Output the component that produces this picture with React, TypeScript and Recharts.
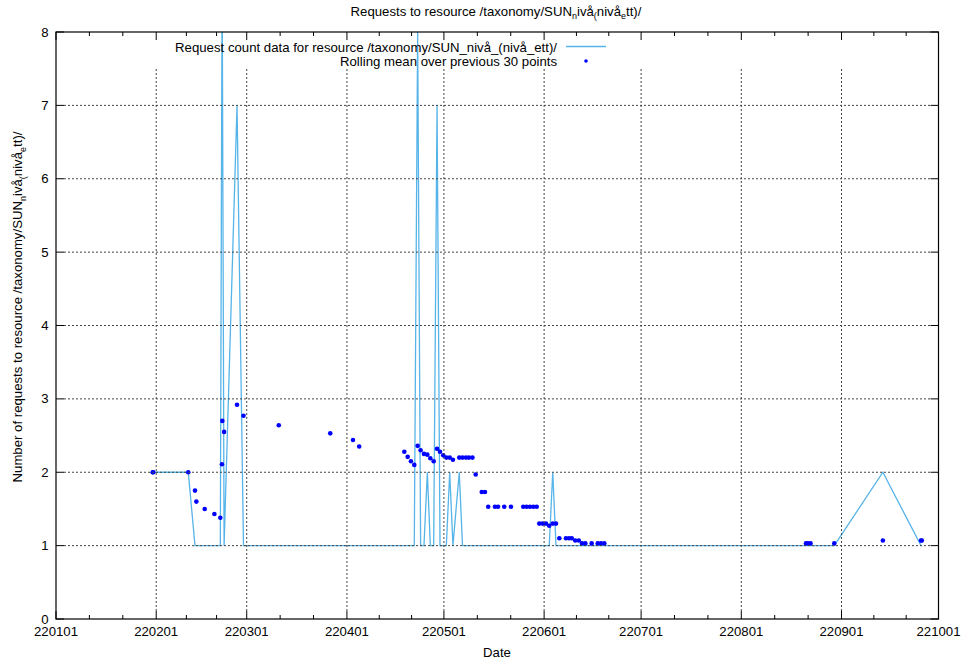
import React from 'react';
import { ComposedChart, Line, XAxis, YAxis } from 'recharts';

// ---- data ----
const DATES = [
  '2022-01-30T22:00Z', '2022-01-31T02:00Z', '2022-02-10T22:00Z', '2022-02-13T00:00Z', '2022-02-13T10:00Z',
  '2022-02-16T00:00Z', '2022-02-19T00:00Z', '2022-02-20T20:00Z', '2022-02-21T08:00Z', '2022-02-21T11:00Z',
  '2022-02-22T00:00Z', '2022-02-26T00:00Z', '2022-02-28T00:00Z', '2022-03-10T22:00Z', '2022-03-26T20:00Z',
  '2022-04-02T21:00Z', '2022-04-04T19:00Z', '2022-04-18T18:00Z', '2022-04-19T19:00Z', '2022-04-20T19:00Z',
  '2022-04-21T20:00Z', '2022-04-22T21:00Z', '2022-04-23T19:00Z', '2022-04-24T20:00Z', '2022-04-25T21:00Z',
  '2022-04-26T19:00Z', '2022-04-27T20:00Z', '2022-04-28T21:00Z', '2022-04-29T19:00Z', '2022-04-30T19:00Z',
  '2022-05-01T18:00Z', '2022-05-02T19:00Z', '2022-05-03T19:00Z', '2022-05-05T18:00Z', '2022-05-06T18:00Z',
  '2022-05-07T20:00Z', '2022-05-08T18:00Z', '2022-05-09T20:00Z', '2022-05-10T20:00Z', '2022-05-12T17:00Z',
  '2022-05-13T17:00Z', '2022-05-14T17:00Z', '2022-05-16T19:00Z', '2022-05-17T18:00Z', '2022-05-19T16:00Z',
  '2022-05-21T18:00Z', '2022-05-25T13:00Z', '2022-05-26T14:00Z', '2022-05-27T15:00Z', '2022-05-28T16:00Z',
  '2022-05-29T17:00Z', '2022-05-30T12:00Z', '2022-05-31T13:00Z', '2022-06-01T14:00Z', '2022-06-02T14:00Z',
  '2022-06-03T16:00Z', '2022-06-04T16:00Z', '2022-06-05T17:00Z', '2022-06-07T18:00Z', '2022-06-08T17:00Z',
  '2022-06-09T13:00Z', '2022-06-10T15:00Z', '2022-06-11T17:00Z', '2022-06-12T17:00Z', '2022-06-13T18:00Z',
  '2022-06-15T17:00Z', '2022-06-17T14:00Z', '2022-06-18T14:00Z', '2022-06-19T15:00Z', '2022-08-21T00:00Z',
  '2022-08-21T15:00Z', '2022-08-22T10:00Z', '2022-08-29T18:00Z', '2022-09-13T19:00Z', '2022-09-25T14:00Z',
  '2022-09-25T20:00Z',
];

const COUNTS = [
  2, 2, 2, 1, 1,
  1, 1, 1, 8, 8,
  1, 7, 1, 1, 1,
  1, 1, 1, 1, 1,
  1, 8, 1, 1, 2,
  1, 1, 7, 1, 1,
  1, 2, 1, 2, 1,
  1, 1, 1, 1, 1,
  1, 1, 1, 1, 1,
  1, 1, 1, 1, 1,
  1, 1, 1, 1, 1,
  2, 1, 1, 1, 1,
  1, 1, 1, 1, 1,
  1, 1, 1, 1, 1,
  1, 1, 1, 2, 1,
  1,
];

const ROLLING_MEANS = [
  2, 2, 2, 1.75, 1.6,
  1.5, 1.43, 1.38, 2.11, 2.7,
  2.55, 2.92, 2.77, 2.64, 2.53,
  2.44, 2.35, 2.28, 2.21, 2.15,
  2.1, 2.36, 2.3, 2.25, 2.24,
  2.19, 2.15, 2.32, 2.28, 2.23,
  2.2, 2.2, 2.17, 2.2, 2.2,
  2.2, 2.2, 2.2, 1.97, 1.73,
  1.73, 1.53, 1.53, 1.53, 1.53,
  1.53, 1.53, 1.53, 1.53, 1.53,
  1.53, 1.3, 1.3, 1.3, 1.27,
  1.3, 1.3, 1.1, 1.1, 1.1,
  1.1, 1.07, 1.07, 1.03, 1.03,
  1.03, 1.03, 1.03, 1.03, 1.03,
  1.03, 1.03, 1.03, 1.07, 1.07,
  1.07,
];

const MONTH_TICKS = [
  '2022-01-01T00:00Z', '2022-02-01T00:00Z', '2022-03-01T00:00Z', '2022-04-01T00:00Z', '2022-05-01T00:00Z',
  '2022-06-01T00:00Z', '2022-07-01T00:00Z', '2022-08-01T00:00Z', '2022-09-01T00:00Z', '2022-10-01T00:00Z',
];
const TICK_LABELS = ['220101', '220201', '220301', '220401', '220501', '220601', '220701', '220801', '220901', '221001'];
const Y_TICKS = [0, 1, 2, 3, 4, 5, 6, 7, 8];

// ---- derived tables ----
const rows = DATES.map((d, i) => ({ t: Date.parse(d), count: COUNTS[i], mean: ROLLING_MEANS[i] }));
const majorTs = MONTH_TICKS.map((d) => Date.parse(d));
const minorTs: number[] = [];
for (let i = 0; i < majorTs.length - 1; i++) {
  const a = majorTs[i];
  const b = majorTs[i + 1];
  minorTs.push(a + (b - a) / 3, a + ((b - a) * 2) / 3);
}
const allXTicks = [...majorTs, ...minorTs].sort((a, b) => a - b);

// ---- layout / style ----
const W = 964;
const H = 664;
const PLOT = { left: 56, right: 938.5, top: 32, bottom: 619 };
const FONT = '"Liberation Sans", Arial, Helvetica, sans-serif';
const FS = 13.2;
const SUB_FS = 9;
const LINE_COLOR = '#56b4e9';
const DOT_COLOR = '#0000ff';
const GRID_DASH = '2 2';
const GRID_COLOR = '#444';

const XTick = (props: any) => {
  const { x, payload } = props;
  const idx = majorTs.indexOf(payload.value);
  const major = idx >= 0;
  const len = major ? 8 : 4;
  const inner = idx > 0 && idx < majorTs.length - 1;
  return (
    <g>
      {inner && (
        <line x1={x} x2={x} y1={PLOT.bottom - len} y2={68} stroke={GRID_COLOR} strokeWidth={1} strokeDasharray={GRID_DASH} />
      )}
      <line x1={x} x2={x} y1={PLOT.bottom} y2={PLOT.bottom - len} stroke="#000" strokeWidth={1} />
      <line x1={x} x2={x} y1={PLOT.top} y2={PLOT.top + len} stroke="#000" strokeWidth={1} />
      {major && (
        <text x={x} y={636} textAnchor="middle" fontFamily={FONT} fontSize={FS} fill="#000">
          {TICK_LABELS[idx]}
        </text>
      )}
    </g>
  );
};

const YTick = (props: any) => {
  const { y, payload } = props;
  const v = payload.value;
  const inner = v > Y_TICKS[0] && v < Y_TICKS[Y_TICKS.length - 1];
  return (
    <g>
      {inner && (
        <line x1={PLOT.left + 8} x2={PLOT.right - 8} y1={y} y2={y} stroke={GRID_COLOR} strokeWidth={1} strokeDasharray={GRID_DASH} />
      )}
      <line x1={PLOT.left} x2={PLOT.left + 8} y1={y} y2={y} stroke="#000" strokeWidth={1} />
      <line x1={PLOT.right} x2={PLOT.right - 8} y1={y} y2={y} stroke="#000" strokeWidth={1} />
      <text x={48.5} y={y + 4.5} textAnchor="end" fontFamily={FONT} fontSize={FS} fill="#000">
        {v}
      </text>
    </g>
  );
};

// "SUN_nivå_(nivå_ett)/" as rendered by gnuplot's enhanced text (single-character subscripts)
const EnhancedPath = () => (
  <>
    <tspan>/taxonomy/SUN</tspan>
    <tspan dy={3.5} fontSize={SUB_FS}>n</tspan>
    <tspan dy={-3.5}>ivå</tspan>
    <tspan dy={3.5} fontSize={SUB_FS}>(</tspan>
    <tspan dy={-3.5}>nivå</tspan>
    <tspan dy={3.5} fontSize={SUB_FS}>e</tspan>
    <tspan dy={-3.5}>tt)/</tspan>
  </>
);

export default function App() {
  return (
    <div style={{ position: 'absolute', left: 0, top: 0, width: W, height: H, background: '#fff' }}>
      <ComposedChart width={W} height={H} data={rows} margin={{ top: PLOT.top, right: W - PLOT.right, bottom: 0, left: 0 }}>
        <XAxis
          xAxisId={0}
          dataKey="t"
          type="number"
          domain={[majorTs[0], majorTs[majorTs.length - 1]]}
          ticks={allXTicks}
          interval={0}
          height={H - PLOT.bottom}
          tickLine={false}
          axisLine={false}
          tickSize={0}
          tickMargin={0}
          allowDataOverflow
          tick={(p: any) => <XTick {...p} />}
        />
        <YAxis
          yAxisId={0}
          type="number"
          domain={[0, 8]}
          ticks={Y_TICKS}
          interval={0}
          width={PLOT.left}
          tickLine={false}
          axisLine={false}
          tickSize={0}
          tickMargin={0}
          allowDataOverflow
          tick={(p: any) => <YTick {...p} />}
        />
        <Line
          dataKey="count"
          type="linear"
          stroke={LINE_COLOR}
          strokeWidth={1.3}
          dot={false}
          activeDot={false}
          isAnimationActive={false}
        />
        <Line
          dataKey="mean"
          type="linear"
          stroke="none"
          strokeWidth={0}
          dot={{ r: 2.3, fill: DOT_COLOR, stroke: 'none', strokeWidth: 0 }}
          activeDot={false}
          isAnimationActive={false}
        />
      </ComposedChart>
      <svg
        width={W}
        height={H}
        style={{ position: 'absolute', left: 0, top: 0, pointerEvents: 'none' }}
        fontFamily={FONT}
        fontSize={FS}
      >
        <rect
          x={PLOT.left}
          y={PLOT.top}
          width={PLOT.right - PLOT.left}
          height={PLOT.bottom - PLOT.top}
          fill="none"
          stroke="#000"
          strokeWidth={1.2}
        />
        <text x={496} y={15.5} textAnchor="middle" fill="#000">
          <tspan>Requests to resource </tspan>
          <EnhancedPath />
        </text>
        <text x={497} y={656.5} textAnchor="middle" fill="#000">
          Date
        </text>
        <text x={22} y={307} textAnchor="middle" fill="#000" transform="rotate(-90 22 307)">
          <tspan>Number of requests to resource </tspan>
          <EnhancedPath />
        </text>
        <text x={557} y={51.5} textAnchor="end" fill="#000">
          Request count data for resource /taxonomy/SUN_nivå_(nivå_ett)/
        </text>
        <line x1={566} x2={606} y1={46.5} y2={46.5} stroke={LINE_COLOR} strokeWidth={1.3} />
        <text x={557} y={65.5} textAnchor="end" fill="#000">
          Rolling mean over previous 30 points
        </text>
        <circle cx={586} cy={61} r={1.8} fill={DOT_COLOR} />
      </svg>
    </div>
  );
}
